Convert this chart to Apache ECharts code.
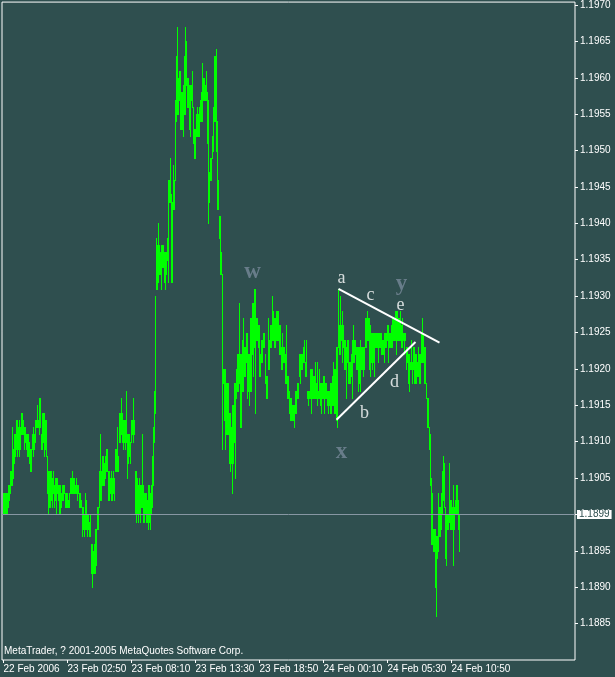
<!DOCTYPE html>
<html><head><meta charset="utf-8">
<script src="https://cdn.jsdelivr.net/npm/echarts@6/dist/echarts.min.js"></script>
<style>html,body{margin:0;padding:0;background:#2f4f4f;}#c{width:615px;height:677px;}</style>
</head><body><div id="c"></div>
<script>
// M5 bars, EURUSD 22-24 Feb 2006 (high / low prices), first bar at category 1
const firstIndex = 1;
const highs = [
1.1903,1.1903,1.1903,1.1903,1.1903,1.1904,1.1904,1.1906,1.1906,1.1912,
1.1909,1.1911,1.1911,1.1913,1.1913,1.1912,1.1913,1.1912,1.1914,1.1914,
1.1913,1.1912,1.1912,1.1911,1.1911,1.1911,1.1910,1.1909,1.1909,1.1911,
1.1912,1.1911,1.1913,1.1913,1.1915,1.1913,1.1916,1.1916,1.1911,1.1914,
1.1914,1.1914,1.1913,1.1913,1.1908,1.1906,1.1906,1.1906,1.1906,1.1905,
1.1906,1.1904,1.1905,1.1905,1.1905,1.1904,1.1904,1.1904,1.1903,1.1904,
1.1904,1.1904,1.1903,1.1903,1.1903,1.1902,1.1903,1.1905,1.1905,1.1906,
1.1905,1.1905,1.1904,1.1905,1.1904,1.1904,1.1903,1.1903,1.1902,1.1901,
1.1901,1.1900,1.1903,1.1902,1.1900,1.1900,1.1899,1.1900,1.1896,1.1896,
1.1895,1.1896,1.1898,1.1898,1.1901,1.1901,1.1906,1.1911,1.1906,1.1908,
1.1908,1.1907,1.1908,1.1909,1.1909,1.1906,1.1906,1.1905,1.1906,1.1905,
1.1906,1.1905,1.1909,1.1909,1.1912,1.1908,1.1914,1.1914,1.1916,1.1914,
1.1913,1.1913,1.1913,1.1917,1.1911,1.1911,1.1911,1.1910,1.1913,1.1913,
1.1916,1.1913,1.1906,1.1906,1.1905,1.1904,1.1905,1.1904,1.1904,1.1911,
1.1904,1.1903,1.1903,1.1903,1.1902,1.1904,1.1904,1.1903,1.1904,1.1908,
1.1912,1.1917,1.1930,1.1938,1.1937,1.1940,1.1937,1.1936,1.1937,1.1937,
1.1937,1.1936,1.1936,1.1936,1.1938,1.1946,1.1946,1.1949,1.1944,1.1943,
1.1948,1.1946,1.1957,1.1963,1.1967,1.1960,1.1961,1.1961,1.1958,1.1958,
1.1959,1.1963,1.1967,1.1965,1.1960,1.1960,1.1959,1.1959,1.1959,1.1961,
1.1956,1.1953,1.1953,1.1955,1.1956,1.1955,1.1956,1.1957,1.1958,1.1962,
1.1960,1.1960,1.1959,1.1961,1.1958,1.1957,1.1947,1.1949,1.1949,1.1952,
1.1956,1.1963,1.1963,1.1964,1.1954,1.1946,1.1941,1.1941,1.1936,1.1933,
1.1920,1.1920,1.1920,1.1918,1.1918,1.1918,1.1914,1.1914,1.1912,1.1915,
1.1915,1.1918,1.1918,1.1920,1.1922,1.1922,1.1929,1.1922,1.1922,1.1924,
1.1927,1.1923,1.1923,1.1925,1.1925,1.1922,1.1922,1.1927,1.1927,1.1929,
1.1929,1.1931,1.1931,1.1927,1.1927,1.1926,1.1926,1.1922,1.1924,1.1924,
1.1925,1.1925,1.1922,1.1919,1.1919,1.1927,1.1924,1.1926,1.1926,1.1930,
1.1928,1.1927,1.1927,1.1928,1.1928,1.1928,1.1926,1.1926,1.1923,1.1925,
1.1923,1.1923,1.1922,1.1926,1.1919,1.1919,1.1917,1.1916,1.1916,1.1915,
1.1915,1.1915,1.1917,1.1917,1.1918,1.1918,1.1922,1.1922,1.1922,1.1922,
1.1923,1.1924,1.1921,1.1924,1.1917,1.1917,1.1917,1.1920,1.1920,1.1920,
1.1919,1.1919,1.1921,1.1918,1.1921,1.1917,1.1920,1.1918,1.1918,1.1918,
1.1919,1.1919,1.1918,1.1918,1.1917,1.1917,1.1917,1.1918,1.1918,1.1919,
1.1921,1.1920,1.1920,1.1923,1.1923,1.1931,1.1926,1.1930,1.1926,1.1928,
1.1926,1.1924,1.1924,1.1923,1.1924,1.1924,1.1921,1.1921,1.1922,1.1924,
1.1926,1.1924,1.1924,1.1923,1.1923,1.1923,1.1923,1.1924,1.1923,1.1923,
1.1923,1.1923,1.1927,1.1927,1.1928,1.1927,1.1927,1.1926,1.1925,1.1925,
1.1925,1.1925,1.1925,1.1925,1.1925,1.1925,1.1925,1.1925,1.1925,1.1924,
1.1924,1.1925,1.1925,1.1925,1.1926,1.1926,1.1925,1.1925,1.1926,1.1927,
1.1927,1.1927,1.1928,1.1928,1.1928,1.1927,1.1927,1.1928,1.1926,1.1927,
1.1925,1.1925,1.1925,1.1923,1.1923,1.1922,1.1922,1.1921,1.1924,1.1921,
1.1923,1.1923,1.1922,1.1922,1.1921,1.1923,1.1922,1.1922,1.1925,1.1927,
1.1925,1.1923,1.1923,1.1918,1.1916,1.1916,1.1912,1.1911,1.1905,1.1903,
1.1898,1.1898,1.1898,1.1897,1.1897,1.1903,1.1901,1.1901,1.1903,1.1906,
1.1908,1.1907,1.1901,1.1900,1.1900,1.1900,1.1907,1.1902,1.1902,1.1901,
1.1904,1.1901,1.1902,1.1904,1.1904,1.1902,1.1900
];
const lows = [
1.1900,1.1900,1.1900,1.1900,1.1900,1.1901,1.1902,1.1903,1.1904,1.1904,
1.1905,1.1907,1.1908,1.1909,1.1908,1.1909,1.1908,1.1909,1.1911,1.1911,
1.1911,1.1909,1.1910,1.1909,1.1908,1.1908,1.1907,1.1906,1.1906,1.1909,
1.1908,1.1909,1.1910,1.1912,1.1912,1.1912,1.1911,1.1912,1.1909,1.1909,
1.1910,1.1908,1.1909,1.1908,1.1903,1.1900,1.1901,1.1901,1.1902,1.1901,
1.1903,1.1901,1.1902,1.1900,1.1903,1.1902,1.1900,1.1900,1.1901,1.1902,
1.1902,1.1903,1.1901,1.1901,1.1901,1.1901,1.1901,1.1903,1.1903,1.1903,
1.1903,1.1903,1.1903,1.1903,1.1902,1.1903,1.1901,1.1901,1.1901,1.1897,
1.1898,1.1897,1.1898,1.1898,1.1897,1.1898,1.1897,1.1897,1.1892,1.1890,
1.1892,1.1892,1.1892,1.1893,1.1898,1.1898,1.1901,1.1902,1.1902,1.1904,
1.1904,1.1904,1.1905,1.1906,1.1906,1.1902,1.1902,1.1903,1.1902,1.1902,
1.1903,1.1902,1.1906,1.1906,1.1906,1.1906,1.1910,1.1910,1.1911,1.1910,
1.1909,1.1910,1.1909,1.1910,1.1905,1.1907,1.1908,1.1907,1.1910,1.1911,
1.1910,1.1911,1.1900,1.1899,1.1900,1.1899,1.1900,1.1899,1.1901,1.1901,
1.1899,1.1899,1.1900,1.1899,1.1899,1.1898,1.1899,1.1898,1.1900,1.1901,
1.1904,1.1910,1.1914,1.1931,1.1931,1.1932,1.1933,1.1933,1.1931,1.1934,
1.1934,1.1932,1.1931,1.1933,1.1935,1.1932,1.1943,1.1943,1.1932,1.1932,
1.1942,1.1942,1.1946,1.1954,1.1955,1.1955,1.1957,1.1953,1.1953,1.1953,
1.1952,1.1955,1.1955,1.1959,1.1956,1.1956,1.1953,1.1952,1.1957,1.1956,
1.1951,1.1949,1.1949,1.1952,1.1952,1.1952,1.1952,1.1954,1.1954,1.1954,
1.1957,1.1957,1.1957,1.1957,1.1951,1.1940,1.1943,1.1946,1.1946,1.1949,
1.1950,1.1954,1.1954,1.1950,1.1942,1.1942,1.1938,1.1933,1.1933,1.1909,
1.1918,1.1913,1.1909,1.1911,1.1911,1.1911,1.1907,1.1906,1.1907,1.1903,
1.1907,1.1910,1.1905,1.1916,1.1917,1.1917,1.1918,1.1912,1.1912,1.1917,
1.1917,1.1919,1.1919,1.1921,1.1916,1.1917,1.1915,1.1917,1.1917,1.1922,
1.1919,1.1923,1.1914,1.1924,1.1924,1.1923,1.1919,1.1919,1.1921,1.1921,
1.1923,1.1923,1.1918,1.1916,1.1916,1.1920,1.1920,1.1923,1.1923,1.1924,
1.1924,1.1923,1.1923,1.1924,1.1924,1.1924,1.1922,1.1922,1.1920,1.1920,
1.1921,1.1921,1.1918,1.1918,1.1916,1.1916,1.1914,1.1913,1.1913,1.1913,
1.1913,1.1912,1.1914,1.1914,1.1916,1.1916,1.1919,1.1918,1.1920,1.1920,
1.1921,1.1921,1.1919,1.1919,1.1916,1.1915,1.1916,1.1916,1.1914,1.1916,
1.1916,1.1916,1.1916,1.1916,1.1915,1.1916,1.1916,1.1915,1.1914,1.1916,
1.1916,1.1914,1.1916,1.1916,1.1915,1.1914,1.1915,1.1914,1.1914,1.1915,
1.1915,1.1914,1.1914,1.1913,1.1912,1.1923,1.1922,1.1922,1.1924,1.1921,
1.1923,1.1920,1.1920,1.1916,1.1921,1.1918,1.1918,1.1918,1.1919,1.1916,
1.1921,1.1921,1.1922,1.1920,1.1920,1.1917,1.1918,1.1917,1.1920,1.1920,
1.1919,1.1920,1.1923,1.1923,1.1924,1.1924,1.1920,1.1919,1.1921,1.1920,
1.1921,1.1919,1.1923,1.1923,1.1923,1.1921,1.1923,1.1923,1.1922,1.1922,
1.1922,1.1921,1.1923,1.1923,1.1924,1.1921,1.1923,1.1923,1.1923,1.1923,
1.1924,1.1924,1.1924,1.1922,1.1924,1.1924,1.1924,1.1924,1.1923,1.1923,
1.1924,1.1922,1.1924,1.1920,1.1921,1.1918,1.1917,1.1920,1.1920,1.1918,
1.1920,1.1918,1.1918,1.1918,1.1919,1.1919,1.1918,1.1918,1.1921,1.1921,
1.1921,1.1918,1.1918,1.1916,1.1912,1.1912,1.1909,1.1904,1.1896,1.1896,
1.1895,1.1895,1.1890,1.1886,1.1894,1.1895,1.1897,1.1897,1.1898,1.1900,
1.1902,1.1901,1.1894,1.1893,1.1898,1.1898,1.1899,1.1898,1.1898,1.1898,
1.1893,1.1898,1.1900,1.1900,1.1900,1.1898,1.1895
];
const slotCount = 573;
const tickStep = 64;
const tickLabels = ['22 Feb 2006','23 Feb 02:50','23 Feb 08:10','23 Feb 13:30','23 Feb 18:50','24 Feb 00:10','24 Feb 05:30','24 Feb 10:50'];
const priceMin = 1.1880, priceMax = 1.19704, priceStep = 0.0005;
const lastPrice = 1.1899;
const trendLines = [
  [[336, 1.1931], [437, 1.19236]],
  [[334, 1.1913], [413, 1.19237]]
];
const whiteLabels = [['a',339,1.19325],['c',368,1.19301],['e',398,1.19288],['d',392,1.19182],['b',362,1.19139]];
const greyLabels = [['w',250,1.19333],['x',339,1.19086],['y',399,1.19317]];

const FONT = 'Liberation Sans';
const categories = [];
for (let k = 0; k < slotCount; k++) categories.push(k);
const bars = highs.map((h, k) => [k + firstIndex, lows[k], h]);
const isTick = (idx) => idx >= 1 && (idx - 1) % tickStep === 0 && (idx - 1) / tickStep < tickLabels.length;

const chart = echarts.init(document.getElementById('c'), null, {renderer: 'canvas'});
chart.setOption({
  backgroundColor: '#2f4f4f',
  animation: false,
  title: {
    text: 'MetaTrader, ? 2001-2005 MetaQuotes Software Corp.',
    left: 4, top: 646, padding: 0,
    textStyle: {color: '#ffffff', fontSize: 10, fontWeight: 'normal', fontFamily: FONT}
  },
  grid: {left: 2, right: 40, top: 2, bottom: 17, show: true, borderColor: '#ffffff', borderWidth: 1, backgroundColor: 'transparent'},
  xAxis: {
    type: 'category', data: categories, boundaryGap: true,
    axisLine: {show: false},
    axisTick: {show: true, alignWithLabel: true, interval: (idx) => isTick(idx), length: 3, lineStyle: {color: '#ffffff'}},
    axisLabel: {
      interval: (idx) => isTick(idx), align: 'left', margin: 4, color: '#ffffff',
      fontSize: 10, fontFamily: FONT,
      formatter: (v, idx) => isTick(idx) ? tickLabels[(idx - 1) / tickStep] : ''
    },
    splitLine: {show: false}
  },
  yAxis: {
    type: 'value', position: 'right', min: priceMin, max: priceMax, interval: priceStep,
    axisLine: {show: false},
    axisTick: {show: true, inside: false, length: 3, lineStyle: {color: '#ffffff'}},
    axisLabel: {color: '#ffffff', fontSize: 10, fontFamily: FONT, margin: 5, showMinLabel: false, showMaxLabel: false,
      formatter: (v) => v.toFixed(4)},
    splitLine: {show: false}
  },
  series: [
    {
      type: 'custom', name: 'bars', data: bars, silent: true,
      encode: {x: 0, y: [1, 2]},
      renderItem: (params, api) => {
        const i = api.value(0);
        const top = api.coord([i, api.value(2)]);
        const bot = api.coord([i, api.value(1)]);
        const y0 = Math.round(top[1]);
        const y1 = Math.round(bot[1]);
        return {type: 'rect', shape: {x: Math.round(top[0] - 0.5), y: y0, width: 1, height: y1 - y0 + 1},
          style: {fill: '#00ff00'}};
      }
    },
    {
      type: 'scatter', name: 'waveW', data: whiteLabels.map(d => [d[1], d[2], d[0]]), symbolSize: 0, silent: true,
      label: {show: true, position: 'inside', formatter: (p) => p.data[2], color: '#ffffff', fontSize: 18, fontFamily: 'Liberation Serif'},
      markLine: {
        silent: true, symbol: ['none', 'none'], animation: false,
        data: [
          ...trendLines.map(t => [{coord: t[0], lineStyle: {color: '#ffffff', width: 2, type: 'solid'}}, {coord: t[1]}]),
          {yAxis: lastPrice, lineStyle: {color: '#8797a3', width: 1, type: 'solid'},
            label: {show: true, position: 'end', distance: 2, formatter: lastPrice.toFixed(4), backgroundColor: '#ffffff',
              color: '#2f4f4f', fontSize: 10, lineHeight: 9, fontFamily: FONT, padding: [0, 2, 0, 2]}}
        ],
        label: {show: false}
      }
    },
    {
      type: 'scatter', name: 'waveG', data: greyLabels.map(d => [d[1], d[2], d[0]]), symbolSize: 0, silent: true,
      label: {show: true, position: 'inside', formatter: (p) => p.data[2], color: '#778899', fontSize: 23, fontWeight: 'bold', fontFamily: 'Liberation Serif'}
    }
  ]
});
</script></body></html>
